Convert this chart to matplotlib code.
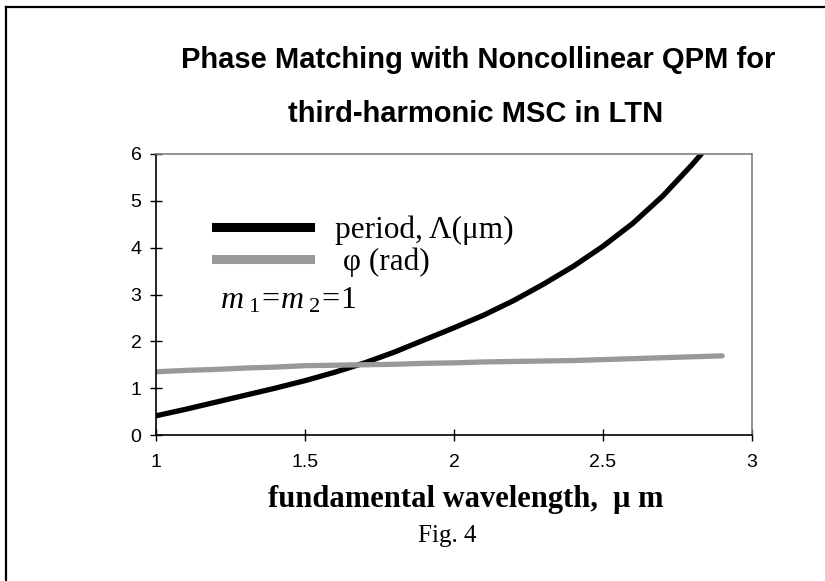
import numpy as np
import matplotlib
matplotlib.use("Agg")
import matplotlib.pyplot as plt
from matplotlib.lines import Line2D

# ------------------------- data -----------------------------------------------
wl_period = [1.0, 1.1, 1.2, 1.3, 1.4, 1.5, 1.6, 1.7, 1.8, 1.9, 2.0,
             2.1, 2.2, 2.3, 2.4, 2.5, 2.6, 2.7, 2.8, 2.83]
period = [0.41, 0.55, 0.70, 0.85, 1.00, 1.16, 1.34, 1.54, 1.77, 2.03, 2.29,
          2.56, 2.87, 3.22, 3.60, 4.03, 4.52, 5.10, 5.78, 6.00]

wl_phi = [1.0, 1.1, 1.2, 1.3, 1.4, 1.5, 1.6, 1.7, 1.8, 1.9, 2.0,
          2.1, 2.2, 2.3, 2.4, 2.5, 2.6, 2.7, 2.8, 2.9]
phi = [1.35, 1.38, 1.40, 1.43, 1.45, 1.48, 1.49, 1.50, 1.51, 1.53, 1.54,
       1.56, 1.57, 1.58, 1.59, 1.61, 1.63, 1.65, 1.67, 1.69]

xticks = [1, 1.5, 2, 2.5, 3]
yticks = [0, 1, 2, 3, 4, 5, 6]

sans = ['Liberation Sans', 'DejaVu Sans']
serif = ['Liberation Serif', 'DejaVu Serif']

plt.rcParams['mathtext.fontset'] = 'custom'
plt.rcParams['mathtext.rm'] = 'Liberation Serif'
plt.rcParams['mathtext.it'] = 'Liberation Serif:italic'

W, H = 825, 581
fig = plt.figure(figsize=(W / 100, H / 100), dpi=100)
ax = fig.add_axes([156 / W, 1 - 435 / H, (752 - 156) / W, (435 - 154) / H])

ax.plot(wl_period, period, color='black', lw=3.8, solid_capstyle='round')
ax.plot(wl_phi, phi, color='#999999', lw=3.8, solid_capstyle='round')

ax.set_xlim(1, 3)
ax.set_ylim(0, 6)
ax.set_xticks(xticks)
ax.set_xticklabels(['1', '1.5', '2', '2.5', '3'])
ax.set_yticks(yticks)
ax.tick_params(direction='inout', length=9, width=1, colors='black')
ax.tick_params(axis='x', pad=9)
ax.tick_params(axis='y', pad=6)
for lab in ax.get_xticklabels() + ax.get_yticklabels():
    lab.set_family(sans)
    lab.set_fontsize(14)

ax.spines['left'].set_color('black')
ax.spines['bottom'].set_color('black')
ax.spines['top'].set_color('#808080')
ax.spines['right'].set_color('#808080')
for s in ax.spines.values():
    s.set_linewidth(1.2)

# legend
handles = [Line2D([], [], color='black', lw=6.5),
           Line2D([], [], color='#999999', lw=6.5)]
ax.legend(handles, ['period, \u039b(\u03bcm)', ' \u03c6 (rad)'],
          loc='center left', bbox_to_anchor=((216 - 156) / 596, (435 - 246) / 281),
          frameon=False, borderpad=0, borderaxespad=0, handlelength=3.0,
          handletextpad=0.8, labelspacing=0.08,
          prop={'family': serif, 'size': 22.5})

ax.text((220 - 156) / 596, (435 - 300) / 281, r'$m_{\ 1}\!=\!m_{\ 2}\!=\!1$',
        transform=ax.transAxes, fontsize=23, va='center', ha='left')

# title and captions
fig.text(478 / W, 1 - 60 / H, 'Phase Matching with Noncollinear QPM for',
         ha='center', va='center', family=sans, weight='bold', fontsize=21)
fig.text(476 / W, 1 - 114 / H, 'third-harmonic MSC in LTN',
         ha='center', va='center', family=sans, weight='bold', fontsize=21)
fig.text(466 / W, 1 - 500 / H, 'fundamental wavelength,  \u03bc m',
         ha='center', va='center', family=serif, weight='bold', fontsize=22)
fig.text(447 / W, 1 - 536 / H, 'Fig. 4',
         ha='center', va='center', family=serif, fontsize=18)

# outer frame (left and top edges only)
fig.add_artist(Line2D([6 / W, 6 / W], [0, 1 - 7 / H], transform=fig.transFigure,
                      color='black', lw=1.6))
fig.add_artist(Line2D([6 / W, 1], [1 - 7 / H, 1 - 7 / H], transform=fig.transFigure,
                      color='black', lw=1.6))

fig.savefig('out.png', dpi=100)
